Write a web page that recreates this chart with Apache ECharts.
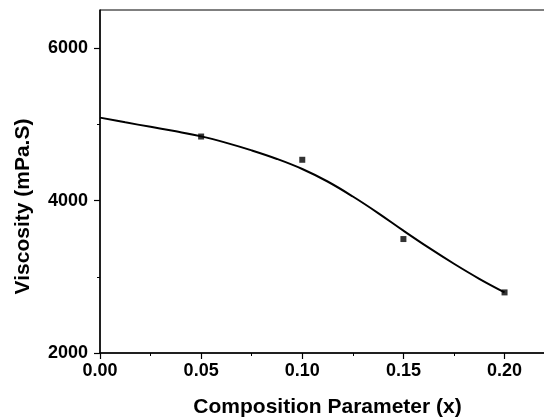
<!DOCTYPE html>
<html><head><meta charset="utf-8">
<script src="https://cdn.jsdelivr.net/npm/echarts@6/dist/echarts.min.js"></script>
<style>html,body{margin:0;padding:0;background:#fff}#c{width:544px;height:420px}</style>
</head><body><div id="c"></div>
<script>
const pointX = [0.05, 0.10, 0.15, 0.20];
const pointY = [4840, 4535, 3495, 2795];
const fitX = [0, 0.0125, 0.025, 0.0375, 0.05, 0.0625, 0.075, 0.0875, 0.10, 0.1125, 0.125, 0.1375, 0.15, 0.1625, 0.175, 0.1875, 0.20];
const fitY = [5088, 5026, 4967, 4908, 4842, 4757, 4658, 4546, 4414, 4250, 4053, 3836, 3605, 3382, 3171, 2974, 2796];
const xTicks = [0, 0.05, 0.10, 0.15, 0.20];
const yTicks = [2000, 4000, 6000];
const xTitle = 'Composition Parameter (x)';
const yTitle = 'Viscosity (mPa.S)';

const Y_MIN = 2000, Y_MAX = 6500, Y_TICK_MAX = 6000;
const TOP = 10, BOTTOM = 67, H = 420;
const plotH = H - TOP - BOTTOM;
const tickTop = TOP + plotH * (Y_MAX - Y_TICK_MAX) / (Y_MAX - Y_MIN);

const chart = echarts.init(document.getElementById('c'), null, {renderer: 'canvas'});
const font = '"Liberation Sans", Arial, sans-serif';
const tickStyle = {color: '#000', width: 1.2};
chart.setOption({
  animation: false,
  grid: [
    {left: 100, top: TOP, right: -1, bottom: BOTTOM, outerBoundsMode: 'none', containLabel: false,
     show: true, borderColor: '#000', borderWidth: 1},
    {left: 100, top: tickTop, right: -1, bottom: BOTTOM, outerBoundsMode: 'none', containLabel: false, show: false}
  ],
  xAxis: [{
    type: 'value', min: 0, max: 0.22, interval: 0.05,
    name: xTitle, nameLocation: 'middle', nameGap: 44,
    nameTextStyle: {fontFamily: font, fontWeight: 'bold', fontSize: 21, color: '#000', padding: [0, 0, 0, 10]},
    axisLine: {show: true, onZero: false, lineStyle: {color: '#000', width: 1.5}},
    axisTick: {show: true, inside: false, length: 6, lineStyle: tickStyle},
    minorTick: {show: true, splitNumber: 2, length: 3, lineStyle: {color: '#000', width: 1}},
    axisLabel: {fontFamily: font, fontWeight: 'bold', fontSize: 18, color: '#000', margin: 9,
      customValues: xTicks, formatter: v => Number(v).toFixed(2)},
    splitLine: {show: false}
  }, {
    gridIndex: 1, type: 'value', min: 0, max: 0.22, show: false
  }],
  yAxis: [{
    type: 'value', min: Y_MIN, max: Y_MAX, interval: 2000,
    name: yTitle, nameLocation: 'middle', nameGap: 66,
    nameTextStyle: {fontFamily: font, fontWeight: 'bold', fontSize: 21, color: '#000', padding: [0, 50, 0, 0]},
    axisLine: {show: true, onZero: false, lineStyle: {color: '#000', width: 1.5}},
    axisTick: {show: false},
    minorTick: {show: false},
    axisLabel: {show: false},
    splitLine: {show: false}
  }, {
    gridIndex: 1, type: 'value', min: Y_MIN, max: Y_TICK_MAX, interval: 2000,
    axisLine: {show: false, onZero: false},
    axisTick: {show: true, inside: false, length: 6, lineStyle: tickStyle},
    minorTick: {show: true, splitNumber: 2, length: 3, lineStyle: {color: '#000', width: 1}},
    axisLabel: {fontFamily: font, fontWeight: 'bold', fontSize: 18, color: '#000', margin: 12,
      formatter: v => String(v)},
    splitLine: {show: false}
  }],
  series: [
    {type: 'line', data: fitX.map((x, i) => [x, fitY[i]]), smooth: 0.4, showSymbol: false,
     lineStyle: {color: '#000', width: 2}, z: 2},
    {type: 'scatter', data: pointX.map((x, i) => [x, pointY[i]]), symbol: 'rect', symbolSize: 6,
     itemStyle: {color: '#000'}, z: 3}
  ]
});
</script></body></html>
